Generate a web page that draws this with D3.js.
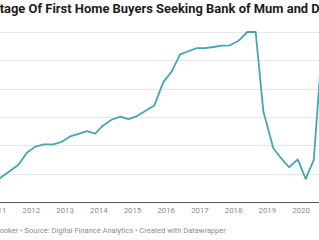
<!DOCTYPE html>
<html>
<head>
<meta charset="utf-8">
<script src="https://cdn.jsdelivr.net/npm/d3@7"></script>
<style>
  html, body { margin: 0; padding: 0; background: #fff; overflow: hidden; }
  svg { display: block; font-family: Roboto, "Noto Sans", sans-serif; }
</style>
</head>
<body>
<svg id="chart" width="319" height="240"></svg>
<script>
  // ---- data ----
  const titleText = "Percentage Of First Home Buyers Seeking Bank of Mum and Dad";
  const footerText = "ooker \u2022 Source: Digital Finance Analytics \u2022 Created with Datawrapper";

  const dates = [
    "2010-11-05", "2011-05-12", "2011-08-18", "2011-11-19",
    "2012-02-19", "2012-05-23", "2012-09-02", "2012-12-01",
    "2013-03-02", "2013-06-08", "2013-09-02", "2013-11-28",
    "2014-02-23", "2014-05-25", "2014-08-27", "2014-11-25",
    "2015-02-24", "2015-05-25", "2015-08-31", "2015-12-06",
    "2016-03-06", "2016-06-05", "2016-09-03", "2016-12-02",
    "2017-02-28", "2017-06-03", "2017-08-29", "2017-11-27",
    "2018-02-25", "2018-06-04", "2018-09-02", "2018-11-24",
    "2019-03-12", "2019-05-24", "2019-08-30", "2019-12-02",
    "2020-02-26", "2020-05-24", "2020-08-26"
  ];
  const share = [
    6.3, 10.7, 13.0, 17.3,
    19.5, 20.3, 20.3, 21.2,
    23.1, 24.1, 25.0, 24.1,
    27.0, 29.0, 30.1, 29.2,
    30.3, 32.1, 34.0, 42.3,
    46.0, 52.1, 53.2, 54.3,
    54.3, 54.7, 55.2, 55.3,
    56.8, 60.0, 60.0, 32.1,
    18.9, 15.9, 12.2, 15.0,
    8.1, 14.8, 57.0
  ];
  const yTicks = [0, 10, 20, 30, 40, 50, 60];
  const yearTicks = ["2011", "2012", "2013", "2014", "2015", "2016", "2017", "2018", "2019", "2020", "2021"];

  const parse = d3.timeParse("%Y-%m-%d");
  const series = dates.map((d, i) => ({ date: parse(d), value: share[i] }));

  const svg = d3.select("#chart");
  const W = +svg.attr("width"), H = +svg.attr("height");

  const x = d3.scaleTime()
    .domain([new Date(2012, 0, 1), new Date(2020, 0, 1)])
    .range([30.8, 300.5]);
  const y = d3.scaleLinear().domain([0, 60]).range([201.8, 32]);

  // gridlines
  svg.append("g").attr("class", "grid")
    .selectAll("line")
    .data(yTicks.filter(v => v > 0))
    .join("line")
    .attr("x1", 0).attr("x2", W)
    .attr("y1", d => Math.round(y(d)) + 0.5).attr("y2", d => Math.round(y(d)) + 0.5)
    .attr("stroke", "#e8e8e8").attr("stroke-width", 1);

  // baseline
  svg.append("line")
    .attr("x1", 0).attr("x2", W)
    .attr("y1", Math.round(y(0)) + 0.5).attr("y2", Math.round(y(0)) + 0.5)
    .attr("stroke", "#555").attr("stroke-width", 1);

  // year labels
  const yearDates = yearTicks.map(s => d3.timeParse("%Y")(s));
  const xAxis = d3.axisBottom(x)
    .tickValues(yearDates)
    .tickFormat(d3.timeFormat("%Y"))
    .tickSize(0).tickPadding(6);
  const gx = svg.append("g").attr("transform", `translate(0,${y(0)})`).call(xAxis);
  gx.select(".domain").remove();
  gx.selectAll("text")
    .attr("fill", "#8a8a8a")
    .style("font-size", "7.8px")
    .style("font-family", "Roboto, sans-serif");

  // line
  const line = d3.line()
    .x(d => x(d.date))
    .y(d => y(d.value));
  svg.append("path")
    .datum(series)
    .attr("d", line)
    .attr("fill", "none")
    .attr("stroke", "#45a6b1")
    .attr("stroke-width", 1.8)
    .attr("stroke-linejoin", "round");

  // title, shifted so the crop matches
  const title = svg.append("text")
    .attr("y", 12.7)
    .attr("fill", "#1d1d1d")
    .style("font-weight", 700)
    .style("font-size", "13px")
    .text(titleText);
  const node = title.node();
  const iT = titleText.indexOf("tage");
  const iD = titleText.lastIndexOf("Dad");
  const span = node.getSubStringLength(iT, iD - iT);
  const fs = 13 * 312 / span;
  title.style("font-size", fs + "px");
  const pre = node.getSubStringLength(0, iT);
  title.attr("x", -0.3 - pre);

  // footer
  svg.append("text")
    .attr("x", -0.5).attr("y", 233)
    .attr("fill", "#8d8d8d")
    .style("font-size", "7.5px")
    .text(footerText);
</script>
</body>
</html>
